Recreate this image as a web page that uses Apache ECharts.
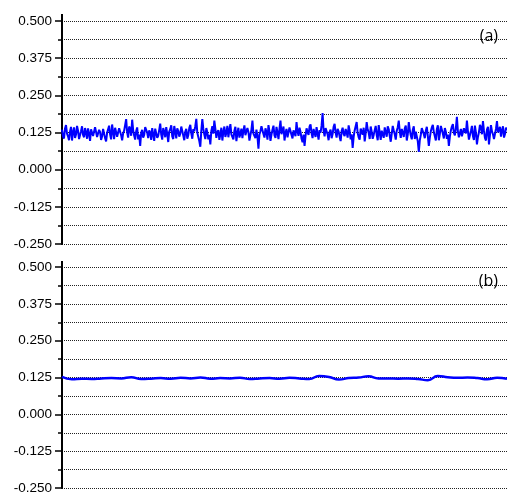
<!DOCTYPE html>
<html>
<head>
<meta charset="utf-8">
<script src="https://cdn.jsdelivr.net/npm/echarts@6/dist/echarts.min.js"></script>
<style>html,body{margin:0;padding:0;background:#fff;}#c{width:507px;height:495px;}</style>
</head>
<body>
<div id="c"></div>
<script>
// Panel (a): raw noisy signal
var seriesA = [
0.135,0.112,0.105,0.138,0.150,0.121,0.112,0.099,0.128,0.144,0.098,0.126,0.142,0.107,0.118,0.147,0.131,0.103,0.101,0.129,0.146,0.117,0.109,0.140,0.125,0.104,0.139,0.120,0.097,0.136,0.133,0.113,0.116,0.143,0.148,0.110,0.104,0.134,0.127,0.100,
0.112,0.137,0.141,0.106,0.095,0.124,0.130,0.148,0.119,0.102,0.152,0.127,0.103,0.141,0.136,0.111,0.110,0.139,0.144,0.116,0.099,0.122,0.131,0.150,0.170,0.126,0.108,0.145,0.138,0.114,0.168,0.133,0.115,0.101,0.129,0.142,0.102,0.118,0.080,0.124,
0.134,0.108,0.117,0.143,0.149,0.125,0.106,0.132,0.125,0.100,0.140,0.119,0.097,0.138,0.132,0.107,0.114,0.134,0.155,0.118,0.101,0.140,0.128,0.109,0.143,0.120,0.093,0.128,0.136,0.149,0.112,0.103,0.147,0.128,0.105,0.139,0.130,0.111,0.121,0.145,
0.142,0.115,0.099,0.128,0.137,0.104,0.116,0.140,0.151,0.122,0.104,0.136,0.129,0.146,0.171,0.124,0.110,0.096,0.077,0.131,0.170,0.137,0.118,0.103,0.140,0.125,0.102,0.117,0.085,0.130,0.146,0.121,0.165,0.138,0.107,0.126,0.133,0.100,0.119,0.141,
0.098,0.127,0.145,0.110,0.124,0.147,0.109,0.133,0.153,0.119,0.115,0.102,0.131,0.144,0.096,0.123,0.141,0.108,0.120,0.138,0.106,0.131,0.149,0.116,0.113,0.140,0.127,0.098,0.100,0.134,0.165,0.121,0.118,0.106,0.135,0.112,0.071,0.118,0.129,0.146,
0.143,0.120,0.108,0.139,0.126,0.101,0.150,0.129,0.097,0.118,0.134,0.148,0.115,0.107,0.144,0.125,0.103,0.138,0.165,0.119,0.121,0.145,0.098,0.123,0.137,0.109,0.111,0.142,0.148,0.117,0.105,0.132,0.130,0.113,0.160,0.128,0.114,0.141,0.127,0.104,
0.092,0.118,0.080,0.114,0.139,0.126,0.117,0.145,0.152,0.123,0.106,0.137,0.131,0.110,0.143,0.121,0.101,0.133,0.125,0.148,0.190,0.131,0.112,0.140,0.146,0.118,0.099,0.127,0.135,0.106,0.120,0.144,0.154,0.125,0.108,0.137,0.129,0.111,0.096,0.130,
0.141,0.120,0.113,0.137,0.126,0.108,0.149,0.130,0.102,0.119,0.073,0.110,0.132,0.146,0.160,0.123,0.109,0.101,0.138,0.127,0.118,0.141,0.095,0.122,0.160,0.135,0.124,0.103,0.145,0.128,0.104,0.117,0.133,0.147,0.116,0.099,0.150,0.124,0.100,0.131,
0.128,0.107,0.142,0.125,0.111,0.146,0.136,0.113,0.094,0.121,0.147,0.132,0.119,0.101,0.131,0.143,0.165,0.128,0.107,0.137,0.125,0.110,0.139,0.148,0.098,0.119,0.160,0.134,0.115,0.102,0.134,0.146,0.103,0.128,0.122,0.095,0.060,0.099,0.117,0.140,
0.138,0.119,0.106,0.131,0.144,0.113,0.080,0.108,0.129,0.142,0.151,0.126,0.112,0.098,0.136,0.149,0.099,0.120,0.147,0.134,0.121,0.105,0.140,0.127,0.104,0.118,0.080,0.111,0.132,0.145,0.153,0.124,0.115,0.140,0.178,0.129,0.109,0.123,0.137,0.112,
0.118,0.139,0.145,0.122,0.165,0.130,0.101,0.116,0.130,0.147,0.113,0.100,0.148,0.124,0.085,0.110,0.126,0.151,0.142,0.119,0.163,0.131,0.107,0.098,0.135,0.144,0.085,0.117,0.150,0.129,0.119,0.103,0.104,0.137,0.163,0.125,0.128,0.144,0.111,0.132,
0.146,0.108,0.120,0.141,0.133
];
// Panel (b): smoothed signal
var seriesB = [
0.127,0.119,0.121,0.120,0.122,0.123,0.122,0.126,0.120,0.121,
0.123,0.121,0.124,0.122,0.125,0.121,0.123,0.122,0.124,0.120,
0.122,0.123,0.121,0.124,0.122,0.120,0.130,0.127,0.118,0.123,
0.125,0.129,0.122,0.122,0.121,0.122,0.120,0.116,0.130,0.126,
0.124,0.125,0.123,0.119,0.124,0.121
];
var yTicks = { min: -0.25, max: 0.5, interval: 0.125 };
var panelLabels = ['(a)', '(b)'];

function idx(arr){ return arr.map(function(v,i){ return [i, v]; }); }

function yAxisCfg(gi){
  return {
    type: 'value', gridIndex: gi,
    min: yTicks.min, max: yTicks.max, interval: yTicks.interval,
    axisLine: { show: true, lineStyle: { color: '#000', width: 2 } },
    axisTick: { show: true, length: 7, lineStyle: { color: '#000', width: 1.5 } },
    minorTick: { show: true, splitNumber: 2, length: 4, lineStyle: { color: '#000', width: 1.5 } },
    splitLine: { show: true, lineStyle: { color: '#222', type: 'dotted', width: 1 } },
    minorSplitLine: { show: true, lineStyle: { color: '#222', type: 'dotted', width: 1 } },
    axisLabel: { formatter: function(v){ return v.toFixed(3); }, fontSize: 13.5, color: '#000',
      fontFamily: 'Liberation Sans, Arial, sans-serif', margin: 10 }
  };
}
function xAxisCfg(gi, n){
  return { type: 'value', gridIndex: gi, min: 0, max: n - 1, show: false };
}

var chart = echarts.init(document.getElementById('c'), null, { renderer: 'canvas' });
chart.setOption({
  animation: false,
  backgroundColor: '#fff',
  title: [
    { text: panelLabels[0], right: 4, top: 23, textStyle: { fontSize: 16, fontWeight: 'normal', color: '#000', fontFamily: 'Open Sans, sans-serif' } },
    { text: panelLabels[1], right: 4, top: 268, textStyle: { fontSize: 16, fontWeight: 'normal', color: '#000', fontFamily: 'Open Sans, sans-serif' } }
  ],
  grid: [
    { left: 62, right: 0, top: 21, height: 223 },
    { left: 62, right: 0, top: 267, height: 222 }
  ],
  xAxis: [ xAxisCfg(0, seriesA.length), xAxisCfg(1, seriesB.length) ],
  yAxis: [ yAxisCfg(0), yAxisCfg(1) ],
  graphic: [
    { type: 'line', shape: { x1: 62, y1: 14, x2: 62, y2: 21 }, style: { stroke: '#000', lineWidth: 2 } },
    { type: 'line', shape: { x1: 62, y1: 261, x2: 62, y2: 267 }, style: { stroke: '#000', lineWidth: 2 } }
  ],
  series: [
    { type: 'line', xAxisIndex: 0, yAxisIndex: 0, data: idx(seriesA), showSymbol: false, sampling: 'none',
      lineStyle: { color: '#0000ff', width: 2 }, z: 3 },
    { type: 'line', xAxisIndex: 1, yAxisIndex: 1, data: idx(seriesB), showSymbol: false, smooth: true,
      lineStyle: { color: '#0000ff', width: 2.5 }, z: 3 }
  ]
});
</script>
</body>
</html>
